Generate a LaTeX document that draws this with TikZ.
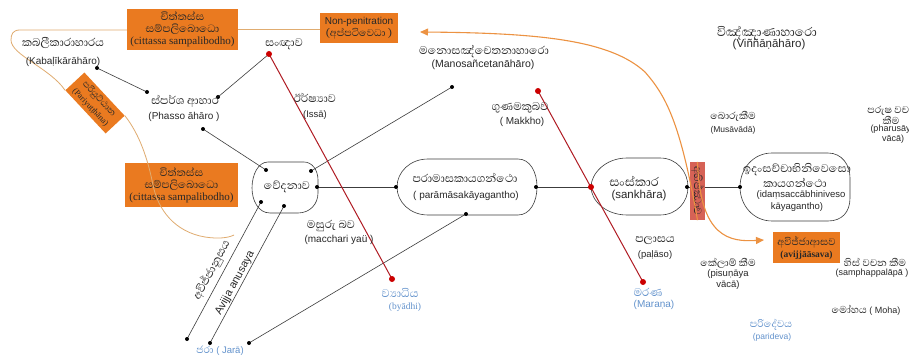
\documentclass[tikz,border=0pt]{standalone}
\usepackage{fontspec}
\setmainfont{Liberation Sans}
\newfontfamily\sinfont[Script=Sinhala,Scale=1.5]{Abhaya Libre}
\newfontfamily\romfont{Liberation Serif}
\usetikzlibrary{arrows.meta}

\definecolor{boxorange}{RGB}{234,122,32}
\definecolor{thinorange}{RGB}{224,172,112}
\definecolor{arroworange}{RGB}{236,146,66}
\definecolor{redline}{RGB}{176,28,36}
\definecolor{reddot}{RGB}{204,0,0}
\definecolor{salmon}{RGB}{214,98,86}
\definecolor{lblue}{RGB}{98,146,204}
\definecolor{edge}{RGB}{60,60,60}
\definecolor{ink}{RGB}{40,40,40}

% one-line font helpers for box captions
\newcommand\boxsi[1]{{\sinfont\fontsize{9}{13}\selectfont #1}}
\newcommand\boxrm[1]{{\romfont\fontsize{11}{13}\selectfont #1}}
\newcommand\sz[1]{\fontsize{#1}{#1}\selectfont}

\tikzset{
  en/.style={font=\sz{9.5}, inner sep=0pt, align=center, text=ink},
  si/.style={font=\sinfont\sz{9.5}, inner sep=0pt, align=center, text=ink},
  blue en/.style={en, text=lblue},
  blue si/.style={si, text=lblue},
  obox/.style={fill=boxorange, inner sep=0pt, align=center, text=ink},
  dot/.style={circle, fill=black, inner sep=0pt, minimum size=4pt},
  rdot/.style={circle, fill=reddot, inner sep=0pt, minimum size=6pt},
  link/.style={draw=edge, line width=0.6pt},
  rlink/.style={draw=redline, line width=1pt},
  outline/.style={draw=edge, line width=0.6pt},
  thin curve/.style={draw=thinorange, line width=0.8pt},
  flow/.style={draw=arroworange, line width=1.1pt, -{Triangle[length=8pt,width=7pt]}},
}

\begin{document}
\begin{tikzpicture}[x=1pt,y=-1pt]
\clip (0,0) rectangle (909,358);
\fill[white] (0,0) rectangle (909,358);

% ---- group shapes (ganthas and the feeling blob)
\draw[outline] (268,162) -- (304,162) .. controls (312,162) and (318,170) .. (318,180)
  -- (318,193) .. controls (318,204) and (310,213) .. (298,213) -- (270,213)
  .. controls (258,213) and (252,200) .. (252,188) .. controls (252,175) and (258,162) .. (268,162);
\draw[outline] (428,159) -- (518,159) .. controls (530,159) and (537,172) .. (537,187)
  .. controls (537,202) and (530,215) .. (518,215) -- (428,215)
  .. controls (410,215) and (397,202) .. (397,187) .. controls (397,172) and (410,159) .. (428,159);
\draw[outline] (627,158) -- (660,158) .. controls (677,158) and (688,172) .. (688,187)
  .. controls (688,202) and (677,215) .. (660,215) -- (627,215)
  .. controls (605,215) and (591,200) .. (591,187) .. controls (591,174) and (605,158) .. (627,158);
\draw[outline] (772,153) -- (828,153) .. controls (842,153) and (850,165) .. (850,178)
  -- (850,198) .. controls (850,212) and (842,221) .. (828,221) -- (772,221)
  .. controls (753,221) and (740,205) .. (740,187) .. controls (740,169) and (753,153) .. (772,153);

% ---- junction points
\coordinate (kab) at (97,68);
\coordinate (pha1) at (147,92);
\coordinate (pha2) at (218,97);
\coordinate (pha3) at (203,129);
\coordinate (vtl) at (266,170);
\coordinate (vtr) at (311,171);
\coordinate (vr) at (317,187);
\coordinate (vbl) at (261,202);
\coordinate (vb) at (284,206);
\coordinate (man) at (452,87);
\coordinate (pl) at (396,187);
\coordinate (pr) at (536,187);
\coordinate (pb) at (466,214);
\coordinate (sl) at (591,187);
\coordinate (sr) at (687,187);
\coordinate (il) at (740,187);
\coordinate (ja1) at (187,339);
\coordinate (ja2) at (210,343);
\coordinate (ja3) at (249,343);
\coordinate (san) at (269,54);
\coordinate (bya) at (392,279);
\coordinate (mak) at (538,91);
\coordinate (mar) at (643,282);

% ---- black connectors
\draw[link] (kab) -- (pha1);
\draw[link] (pha2) -- (san);
\draw[link] (pha3) -- (vtl);
\draw[link] (vtr) -- (man);
\draw[link] (vr) -- (pl);
\draw[link] (vbl) -- (ja1);
\draw[link] (vb) -- (ja2);
\draw[link] (pb) -- (ja3);
\draw[link] (pr) -- (sl);
\draw[link] (sr) -- (il);

% ---- red connectors
\draw[rlink] (san) -- (bya);
\draw[rlink] (mak) -- (mar);

% ---- dots
\foreach \p in {kab,pha1,pha2,pha3,vtl,vtr,vr,vbl,vb,man,pl,pr,pb,sr,il,ja1,ja2,ja3}
  \node[dot] at (\p) {};
\foreach \p in {san,bya,mak,mar,sl}
  \node[rdot] at (\p) {};

% ---- orange boxes
\node[obox, minimum width=111pt, minimum height=41pt] (cit1) at (182.5,29.5)
  {\boxsi{චිත්තස්ස}\\\boxsi{සම්පලිබොධො}\\\boxrm{(cittassa sampalibodho)}};
\node[obox, minimum width=113pt, minimum height=44pt] (cit2) at (181.5,185)
  {\boxsi{චිත්තස්ස}\\\boxsi{සම්පලිබොධො}\\\boxrm{(cittassa sampalibodho)}};
\node[obox, minimum width=78pt, minimum height=30pt] (nonp) at (359,28)
  {{\sz{10}Non-penitration}\\{\sinfont\sz{8.5}(අප්පටිවෙධා )}};
\node[obox, minimum width=59pt, minimum height=26pt, rotate=-47] (pari) at (95,103)
  {{\sinfont\sz{7.5}පරියුට්ඨාන}\\{\romfont\sz{8.5}(Pariyuṭṭhāna)}};
\node[obox, minimum width=67pt, minimum height=31pt] (asava) at (806.5,247.5)
  {{\sinfont\sz{8.5}අවිජ්ජාආසව}\\{\romfont\bfseries\sz{9.5}(avijjāāsava)}};
\node[fill=salmon, minimum width=58pt, minimum height=15pt, inner sep=0pt, rotate=-90, text=ink] (abh) at (697.5,191)
  {\sinfont\sz{9}අභිජ්ඣාව};

% ---- orange links
\draw[thin curve] (cit1.west |- 0,30) -- (20,30) .. controls (13,30) and (11,34) .. (11,40)
  .. controls (11,55) and (50,68) .. (pari.south west);
\draw[thin curve] (pari.north east) .. controls (140,135) and (148,160) .. (153,185)
  .. controls (158,210) and (175,232) .. (205,237) .. controls (218,239) and (228,238) .. (234,235);
\draw[thin curve] (cit1.east |- 0,29) -- (nonp.west |- 0,29);
\coordinate (nptip) at (420,32);
\coordinate (astip) at (764,240);
\draw[flow] (abh.east) .. controls (680,120) and (665,95) .. (645,72)
  .. controls (610,40) and (540,33) .. (nptip);
\draw[flow] (abh.west) .. controls (700,238) and (730,242) .. (astip);

% ---- labels
\node[si] (kabs) at (63,43) {කබලීකාරාහාරය};
\node[en, font=\sz{10}] (kabe) at (63,62) {(Kabaḷīkārāhāro)};
\node[si] (phas) at (185,101) {ස්පර්ශ ආහාර};
\node[en, font=\sz{10}] (phae) at (184,117) {(Phasso āhāro )};
\node[si] (sans) at (284,44) {සංඥාව};
\node[si] (isss) at (315,98) {ඊර්ෂ්‍යාව};
\node[en] (isse) at (315,115) {(Issā)};
\node[si] (mans) at (484,52) {මනොසඤ්චෙතනාහාරො};
\node[en, font=\sz{10.5}] (mane) at (483,65) {(Manosañcetanāhāro)};
\node[si] (maks) at (520,108) {ගුණමකුබව};
\node[en, font=\sz{10}] (make) at (522,122) {( Makkho)};
\node[si, font=\sinfont\sz{10.5}] (vins) at (767,33) {විඤ්ඤාණාහාරො};
\node[en, font=\sz{11.5}] (vine) at (769,45) {(Viññāṇāhāro)};
\node[si, font=\sinfont\sz{8.5}] (muss) at (733,116) {බොරුකීම};
\node[en, font=\sz{8.5}] (muse) at (733,130) {(Musāvādā)};
\node[si, font=\sinfont\sz{8.5}] (phrs1) at (893,111) {පරුෂ වචන};
\node[si, font=\sinfont\sz{8.5}] (phrs2) at (891,120) {කීම};
\node[en, font=\sz{9}] (phre1) at (893,129) {(pharusāya};
\node[en, font=\sz{9}] (phre2) at (893,139) {vācā)};
\node[si] (veds) at (287,187) {වේදනාව};
\node[si] (pars) at (465,178) {පරාමාසකායගන්ථො};
\node[en, font=\sz{10}] (pare) at (466,196) {( parāmāsakāyagantho)};
\node[si, font=\sinfont\sz{10.5}] (sans2) at (634,181) {සංස්කාර};
\node[en, font=\sz{11.5}] (sane) at (639,196) {(sankhāra)};
\node[si] (ids1) at (797,170) {ඉදංසච්චාභිනිවෙසො};
\node[si] (ids2) at (795,183) {කායගන්ථො};
\node[en] (ide1) at (801,195) {(idaṃsaccābhiniveso};
\node[en] (ide2) at (797,207) {kāyagantho)};
\node[si] (macs) at (331,226) {මසුරු බව};
\node[en, font=\sz{10}] (mace) at (339,240) {(macchari yaü )};
\node[si] (pals) at (655,241) {පලාසය};
\node[en] (pale) at (655,255) {(paḷāso)};
\node[blue si] (mars) at (648,292) {මරණ};
\node[blue en, font=\sz{10}] (mare) at (654,305) {(Maraṇa)};
\node[blue si] (byas) at (400,293) {ව්‍යාධිය};
\node[blue en, font=\romfont\sz{9.5}] (byae) at (405,307) {(byādhi)};
\node[blue en] (jar) at (220,351) {{\sinfont\sz{8.5}ජරා} ( Jarā)};
\node[si, font=\sinfont\sz{8.5}] (piss) at (728,263) {කේලාම් කීම};
\node[en] (pise1) at (728,274) {(pisuṇāya};
\node[en] (pise2) at (728,285) {vācā)};
\node[si, font=\sinfont\sz{8.5}] (sams) at (875,262) {හිස් වචන කීම};
\node[en, font=\sz{9}] (same) at (872,273) {(samphappalāpā )};
\node[en, font=\sz{9}] (moh) at (866,310) {{\sinfont\sz{8.5}මෝහය} ( Moha)};
\node[blue si, font=\sinfont\sz{8.5}] (pads) at (771,325) {පරිදේවය};
\node[blue en, font=\sz{8.5}] (pade) at (772,337) {(parideva)};

% ---- labels running along the lines to ageing
\node[si, rotate=61.6] (anus) at (211.5,270) {අවිජ්ජානුසය};
\node[en, rotate=61.6, font=\sz{11}] (anue) at (235,283) {Avijja anusaya};
\end{tikzpicture}
\end{document}
